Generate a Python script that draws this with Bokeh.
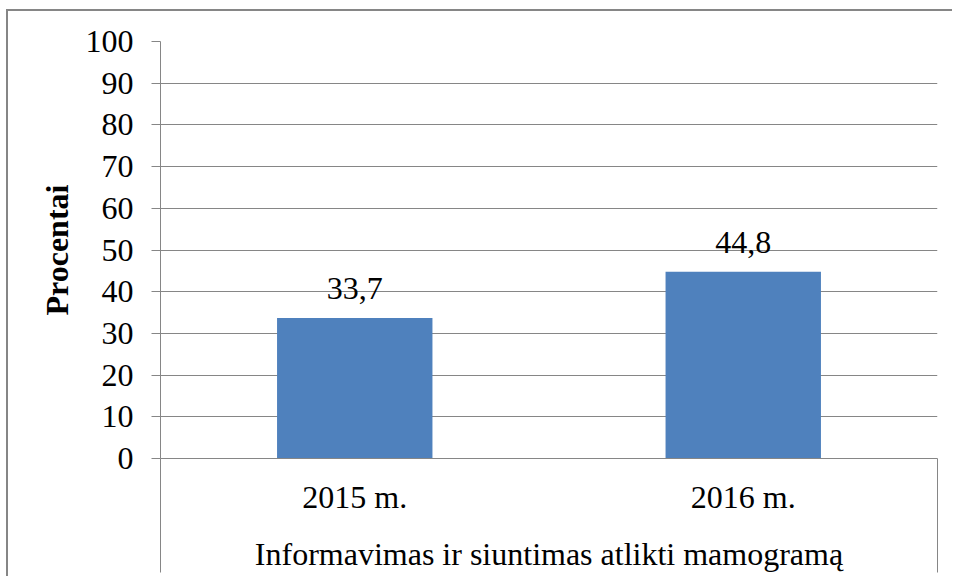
from bokeh.plotting import figure
from bokeh.models import Range1d, FixedTicker
from bokeh.core.properties import value
from bokeh.embed import file_html
from bokeh.resources import INLINE

categories = ["2015 m.", "2016 m."]
values = [33.7, 44.8]
y_ticks = [0, 10, 20, 30, 40, 50, 60, 70, 80, 90, 100]
y_title = "Procentai"
x_title = "Informavimas ir siuntimas atlikti mamogramą"

FONT = "Liberation Serif"
GRAY = "#868686"
BAR = "#4F81BD"
DIVIDER = 114

n = len(categories)
positions = [i + 0.5 for i in range(n)]
labels = [f"{v:.1f}".replace(".", ",") for v in values]

p = figure(width=946, height=567, output_backend="svg", toolbar_location=None,
           x_range=Range1d(0, n), y_range=Range1d(y_ticks[0], y_ticks[-1]),
           min_border_left=152, min_border_right=17, min_border_top=30,
           min_border_bottom=120)
p.outline_line_color = None
p.background_fill_color = "white"
p.border_fill_color = "white"
p.styles = {"margin-left": "6px", "margin-top": "9px",
            "border-left": f"2px solid {GRAY}", "border-top": f"2px solid {GRAY}"}

p.vbar(x=positions, top=values, width=0.4, fill_color=BAR, line_color=None)
p.text(x=positions, y=values, text=labels, text_align="center",
       text_baseline="alphabetic", y_offset=-29,
       text_font=value(FONT), text_font_size="32px", text_color="black")

# y axis
ya = p.yaxis[0]
ya.ticker = FixedTicker(ticks=y_ticks)
ya.axis_line_color = GRAY
ya.major_tick_line_color = GRAY
ya.major_tick_out = 9
ya.major_tick_in = 0
ya.minor_tick_out = 0
ya.minor_tick_in = 0
ya.major_label_text_font = FONT
ya.major_label_text_font_size = "32px"
ya.major_label_text_color = "black"
ya.major_label_standoff = 18
ya.axis_label = y_title
ya.axis_label_text_font = FONT
ya.axis_label_text_font_size = "32px"
ya.axis_label_text_font_style = "bold"
ya.axis_label_text_color = "black"
ya.axis_label_standoff = 8

# x axis: category dividers drawn as long minor ticks at the category edges
xa = p.xaxis[0]
xa.ticker = FixedTicker(ticks=positions, minor_ticks=[0, n])
xa.major_label_overrides = {pos: c for pos, c in zip(positions, categories)}
xa.axis_line_color = GRAY
xa.major_tick_out = 0
xa.major_tick_in = 0
xa.minor_tick_out = DIVIDER
xa.minor_tick_in = 0
xa.minor_tick_line_color = GRAY
xa.major_label_text_font = FONT
xa.major_label_text_font_size = "32px"
xa.major_label_text_color = "black"
xa.major_label_standoff = 20 - DIVIDER
xa.axis_label = x_title
xa.axis_label_text_font = FONT
xa.axis_label_text_font_size = "32px"
xa.axis_label_text_font_style = "normal"
xa.axis_label_text_color = "black"
xa.axis_label_standoff = 18

p.xgrid.grid_line_color = None
p.ygrid.grid_line_color = GRAY
p.ygrid.grid_line_width = 1

open("out.html", "w").write(file_html(p, INLINE))
